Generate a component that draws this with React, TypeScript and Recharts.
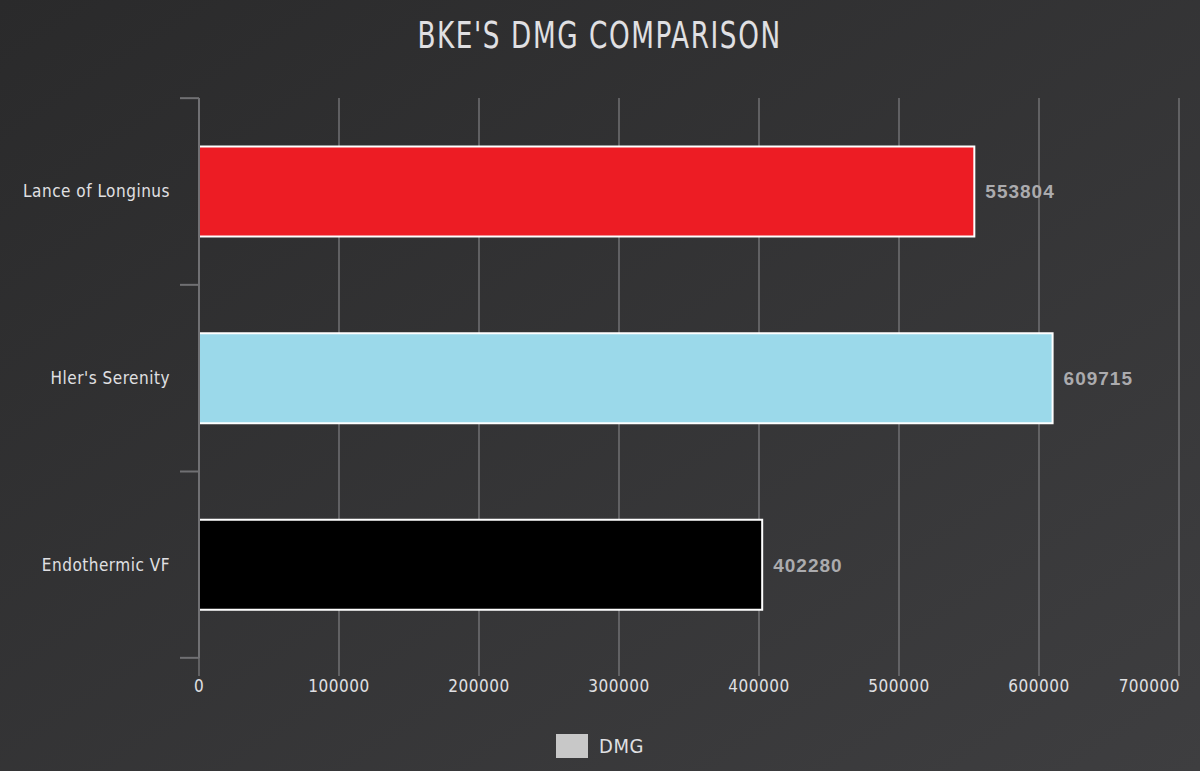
import { BarChart, Bar, XAxis, YAxis, CartesianGrid, Legend, Cell, LabelList } from 'recharts'

const categories = ['Lance of Longinus', "Hler's Serenity", 'Endothermic VF']
const dmgValues = [553804, 609715, 402280]
const barColors = ['#ED1C24', '#9BD9EA', '#000000']
const xTicks = [0, 100000, 200000, 300000, 400000, 500000, 600000, 700000]

const data = categories.map((name, i) => ({ name, dmg: dmgValues[i] }))

const W = 1200
const H = 771
const PLOT_TOP = 98
const PLOT_BOTTOM = 657
const AXIS_X = 199
const FONT = "'Liberation Sans Narrow', 'DejaVu Sans Condensed', 'Roboto', sans-serif"
const GRID = '#707073'
const TEXT = '#E0E0E3'

const YTick = (props: any) => {
  const { y, payload, index } = props
  const band = (PLOT_BOTTOM - PLOT_TOP) / categories.length
  return (
    <g>
      <line x1={AXIS_X - 19} x2={AXIS_X} y1={y - band / 2} y2={y - band / 2} stroke={GRID} strokeWidth={2} />
      {index === categories.length - 1 && (
        <line x1={AXIS_X - 19} x2={AXIS_X} y1={y + band / 2} y2={y + band / 2} stroke={GRID} strokeWidth={2} />
      )}
      <text x={170} y={y} dy={6} textAnchor="end" fill={TEXT} fontSize={17} fontFamily={FONT} letterSpacing={0.5}>
        {payload.value}
      </text>
    </g>
  )
}

const XTick = (props: any) => {
  const { x, payload, index } = props
  const last = index === xTicks.length - 1
  return (
    <text x={last ? x + 1 : x} y={692} textAnchor={last ? 'end' : 'middle'} fill={TEXT} fontSize={17} fontFamily={FONT} letterSpacing={0.5}>
      {payload.value}
    </text>
  )
}

const LegendContent = () => (
  <div style={{ display: 'flex', justifyContent: 'center', alignItems: 'center', height: 24 }}>
    <div style={{ width: 32, height: 24, background: '#C8C8C8', marginRight: 11 }} />
    <span style={{ color: TEXT, fontFamily: FONT, fontSize: 20, letterSpacing: 0.5 }}>DMG</span>
  </div>
)

export default function App() {
  return (
    <div
      style={{
        position: 'absolute',
        left: 0,
        top: 0,
        width: W,
        height: H,
        background: 'linear-gradient(to bottom right, #2a2a2b, #3e3e40)',
      }}
    >
      <div
        style={{
          position: 'absolute',
          top: 14,
          width: W,
          textAlign: 'center',
          color: TEXT,
          fontFamily: FONT,
          fontSize: 37,
          letterSpacing: 2,
        }}
      >
        <span style={{ display: 'inline-block', transform: 'scaleX(0.79)' }}>BKE'S DMG COMPARISON</span>
      </div>
      <BarChart
        width={W}
        height={H}
        data={data}
        layout="vertical"
        margin={{ top: PLOT_TOP, right: W - 1179, left: 0, bottom: 13 }}
        barCategoryGap="26%"
      >
        <CartesianGrid horizontal={false} stroke={GRID} strokeWidth={1.5} />
        <XAxis
          type="number"
          dataKey="dmg"
          domain={[0, 700000]}
          ticks={xTicks}
          axisLine={false}
          tickLine={{ stroke: GRID, strokeWidth: 1.5 }}
          tickSize={18}
          height={76}
          tick={<XTick />}
          interval={0}
        />
        <YAxis
          type="category"
          dataKey="name"
          width={AXIS_X}
          axisLine={{ stroke: GRID, strokeWidth: 2 }}
          tickLine={false}
          tick={<YTick />}
          interval={0}
        />
        <Legend
          verticalAlign="bottom"
          height={24}
          wrapperStyle={{ left: 0, width: W }}
          content={<LegendContent />}
        />
        <Bar dataKey="dmg" name="DMG" stroke="#FFFFFF" strokeWidth={2} isAnimationActive={false}>
          {data.map((_, i) => (
            <Cell key={`cell-${i}`} fill={barColors[i]} />
          ))}
          <LabelList
            dataKey="dmg"
            position="right"
            offset={11}
            fill="#ABABAE"
            fontSize={19}
            fontWeight="bold"
            fontFamily="'Liberation Sans', Arial, sans-serif"
            letterSpacing={1}
          />
        </Bar>
      </BarChart>
    </div>
  )
}
